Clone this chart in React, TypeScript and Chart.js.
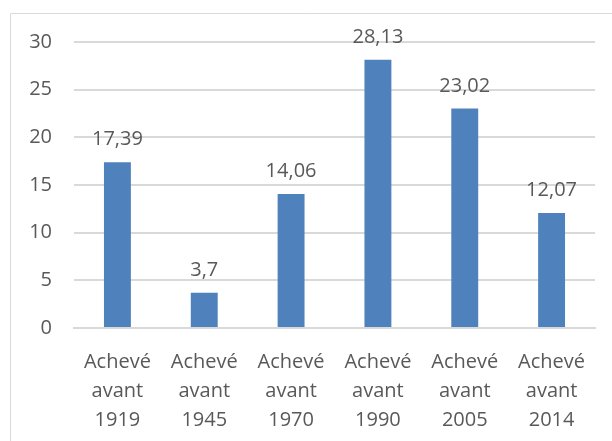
import React, { useEffect, useRef } from "react";
import { Chart, registerables } from "chart.js";

Chart.register(...registerables);

const categories: string[][] = [
  ["Achevé", "avant", "1919"],
  ["Achevé", "avant", "1945"],
  ["Achevé", "avant", "1970"],
  ["Achevé", "avant", "1990"],
  ["Achevé", "avant", "2005"],
  ["Achevé", "avant", "2014"],
];
const values: number[] = [17.39, 3.7, 14.06, 28.13, 23.02, 12.07];
const yMin = 0;
const yMax = 30;
const yStep = 5;

const FONT = "'Open Sans', 'Liberation Sans', sans-serif";
const TEXT = "#595959";
const GRID = "#d9d9d9";
const BAR = "#4f81bd";

const framePlugin = {
  id: "frame",
  beforeDraw(chart: any) {
    const ctx = chart.ctx;
    ctx.save();
    ctx.fillStyle = "#ffffff";
    ctx.fillRect(0, 0, chart.width, chart.height);
    ctx.strokeStyle = GRID;
    ctx.lineWidth = 1;
    ctx.beginPath();
    ctx.moveTo(10.5, chart.height);
    ctx.lineTo(10.5, 13.5);
    ctx.lineTo(chart.width, 13.5);
    ctx.stroke();
    ctx.restore();
  },
};

const labelPlugin = {
  id: "barLabels",
  afterDatasetsDraw(chart: any) {
    const ctx = chart.ctx;
    const meta = chart.getDatasetMeta(0);
    ctx.save();
    ctx.font = `20px ${FONT}`;
    ctx.fillStyle = TEXT;
    ctx.textAlign = "center";
    ctx.textBaseline = "alphabetic";
    meta.data.forEach((el: any, i: number) => {
      const v = values[i];
      ctx.fillText(String(v).replace(".", ","), el.x, el.y - 17);
    });
    ctx.restore();
  },
};

export default function App() {
  const ref = useRef<HTMLCanvasElement | null>(null);
  useEffect(() => {
    document.body.style.margin = "0";
    if (!ref.current) return;
    const chart = new Chart(ref.current, {
      type: "bar",
      data: {
        labels: categories,
        datasets: [
          {
            data: values,
            backgroundColor: BAR,
            borderWidth: 0,
            barPercentage: 0.31,
            categoryPercentage: 1,
          },
        ],
      },
      options: {
        animation: false,
        responsive: false,
        maintainAspectRatio: false,
        layout: { padding: { left: 0, top: 42, right: 17, bottom: 0 } },
        plugins: { legend: { display: false }, tooltip: { enabled: false } },
        scales: {
          x: {
            grid: { display: false, drawTicks: false },
            border: { display: true, color: GRID, width: 2 },
            ticks: {
              color: TEXT,
              font: { family: FONT, size: 20, lineHeight: 1.45 },
              padding: 20,
              maxRotation: 0,
              autoSkip: false,
            },
            afterFit: (s: any) => {
              s.height = 113;
            },
          },
          y: {
            min: yMin,
            max: yMax,
            grid: { color: GRID, lineWidth: 2, drawTicks: false },
            border: { display: false },
            ticks: {
              stepSize: yStep,
              color: TEXT,
              font: { family: FONT, size: 20 },
              padding: 22,
            },
            afterFit: (s: any) => {
              s.width = 74;
            },
          },
        },
      },
      plugins: [framePlugin, labelPlugin],
    });
    return () => chart.destroy();
  }, []);
  return <canvas ref={ref} width={612} height={441} style={{ display: "block" }} />;
}
